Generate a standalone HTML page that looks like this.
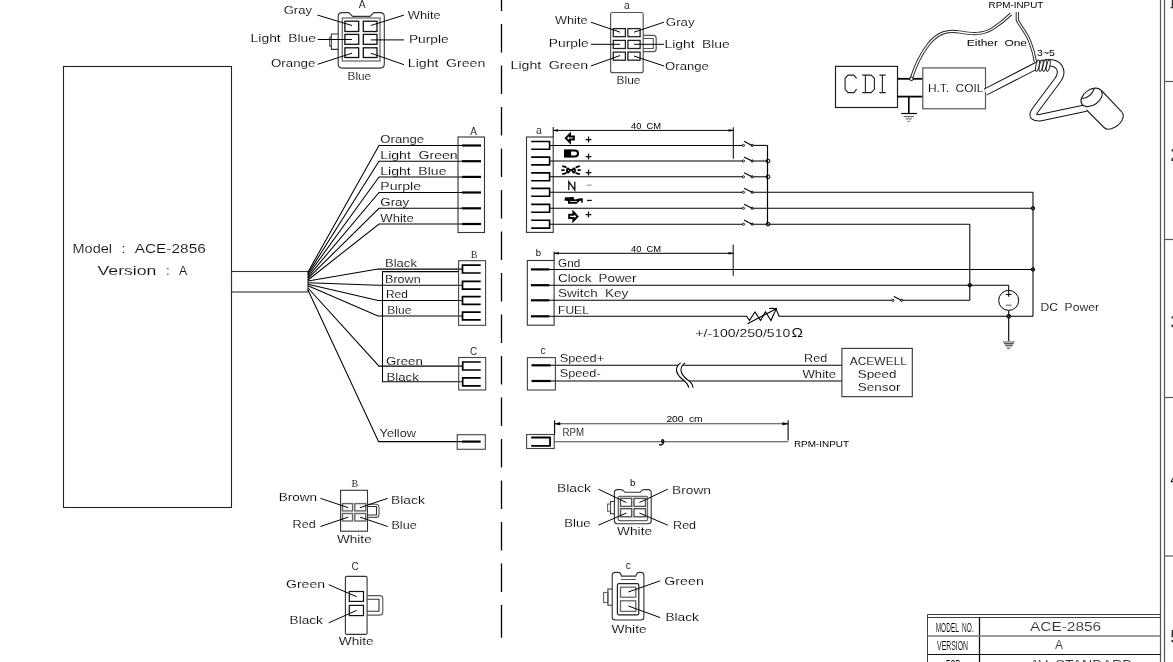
<!DOCTYPE html>
<html><head><meta charset="utf-8"><title>ACE-2856 wiring</title>
<style>
html,body{margin:0;padding:0;background:#fff;width:1173px;height:662px;overflow:hidden;}
svg{display:block;font-family:"Liberation Sans",sans-serif;filter:grayscale(1);}
</style></head>
<body>
<svg width="1173" height="662" viewBox="0 0 1173 662">
<rect x="0" y="0" width="1173" height="662" fill="#fff"/>
<line x1="1160.5" y1="0" x2="1160.5" y2="662" stroke="#555" stroke-width="1.2" />
<line x1="1164.5" y1="0" x2="1164.5" y2="662" stroke="#555" stroke-width="1.2" />
<line x1="1164.5" y1="81.5" x2="1173" y2="81.5" stroke="#555" stroke-width="1.2" />
<line x1="1164.5" y1="239.5" x2="1173" y2="239.5" stroke="#555" stroke-width="1.2" />
<line x1="1164.5" y1="397.5" x2="1173" y2="397.5" stroke="#555" stroke-width="1.2" />
<line x1="1164.5" y1="556" x2="1173" y2="556" stroke="#555" stroke-width="1.2" />
<text x="1170.3" y="161.3" font-size="18" font-family="Liberation Sans" fill="#222" stroke="#fff" stroke-width="0.12" text-anchor="start" >2</text>
<text x="1170.3" y="327.7" font-size="18" font-family="Liberation Sans" fill="#222" stroke="#fff" stroke-width="0.12" text-anchor="start" >3</text>
<text x="1170.3" y="485" font-size="18" font-family="Liberation Sans" fill="#222" stroke="#fff" stroke-width="0.12" text-anchor="start" >4</text>
<text x="1170.3" y="643.2" font-size="18" font-family="Liberation Sans" fill="#222" stroke="#fff" stroke-width="0.12" text-anchor="start" >5</text>
<path d="M1172.4,0 V7.6 M1170.6,7.6 H1173" stroke="#333" stroke-width="1.3" fill="none" />
<line x1="927.5" y1="614.5" x2="1160.5" y2="614.5" stroke="#444" stroke-width="1" />
<line x1="927.5" y1="617.5" x2="1160.5" y2="617.5" stroke="#444" stroke-width="1" />
<line x1="927.5" y1="614.5" x2="927.5" y2="662" stroke="#444" stroke-width="1" />
<line x1="979.5" y1="617.5" x2="979.5" y2="662" stroke="#111" stroke-width="1.3" />
<line x1="927.5" y1="636" x2="1160.5" y2="636" stroke="#777" stroke-width="1.4" />
<line x1="927.5" y1="654.5" x2="1160.5" y2="654.5" stroke="#111" stroke-width="1.2" />
<text x="935.7" y="631.7" font-size="13" font-family="Liberation Sans" fill="#000" stroke="#fff" stroke-width="0.12" text-anchor="start" textLength="38" lengthAdjust="spacingAndGlyphs"  word-spacing="3.38">MODEL NO.</text>
<text x="937.1" y="649.9" font-size="12.8" font-family="Liberation Sans" fill="#000" stroke="#fff" stroke-width="0.12" text-anchor="start" textLength="31" lengthAdjust="spacingAndGlyphs" >VERSION</text>
<text x="946" y="668.5" font-size="12.8" font-family="Liberation Sans" fill="#000" stroke="#fff" stroke-width="0.12" text-anchor="start" textLength="14.5" lengthAdjust="spacingAndGlyphs" >FOR</text>
<text x="1030" y="631.3" font-size="12.8" font-family="Liberation Sans" fill="#333" stroke="#fff" stroke-width="0.12" text-anchor="start" textLength="71.2" lengthAdjust="spacingAndGlyphs" >ACE-2856</text>
<text x="1059.1" y="649.2" font-size="12" font-family="Liberation Sans" fill="#333" stroke="#fff" stroke-width="0.12" text-anchor="middle" >A</text>
<text x="1030" y="668.5" font-size="12.8" font-family="Liberation Sans" fill="#333" stroke="#fff" stroke-width="0.12" text-anchor="start" textLength="102.5" lengthAdjust="spacingAndGlyphs"  word-spacing="3.33">AV STANDARD</text>
<rect x="63.5" y="66.5" width="168.0" height="441.0" rx="0" stroke="#222" stroke-width="1.1" fill="none"/>
<rect x="231.5" y="271.5" width="76.5" height="20.5" rx="0" stroke="#333" stroke-width="1.1" fill="none"/>
<text x="72.6" y="253.3" font-size="13.4" font-family="Liberation Sans" fill="#111" stroke="#fff" stroke-width="0.12" text-anchor="start" textLength="39.3" lengthAdjust="spacingAndGlyphs" >Model</text>
<text x="121.6" y="253.3" font-size="13.4" font-family="Liberation Sans" fill="#111" stroke="#fff" stroke-width="0.12" text-anchor="start" >:</text>
<text x="134.7" y="253.3" font-size="13.4" font-family="Liberation Sans" fill="#111" stroke="#fff" stroke-width="0.12" text-anchor="start" textLength="71.1" lengthAdjust="spacingAndGlyphs" >ACE-2856</text>
<text x="97.6" y="274.5" font-size="13.4" font-family="Liberation Sans" fill="#111" stroke="#fff" stroke-width="0.12" text-anchor="start" textLength="58.8" lengthAdjust="spacingAndGlyphs" >Version</text>
<text x="166.1" y="274.5" font-size="13.4" font-family="Liberation Sans" fill="#111" stroke="#fff" stroke-width="0.12" text-anchor="start" >:</text>
<text x="178.9" y="274.5" font-size="13.4" font-family="Liberation Sans" fill="#111" stroke="#fff" stroke-width="0.12" text-anchor="start" textLength="8.2" lengthAdjust="spacingAndGlyphs" >A</text>
<path d="M308,272 L379,145.5 H462" stroke="#000" stroke-width="1.05" fill="none" />
<text x="380.3" y="143.1" font-size="10.6" font-family="Liberation Sans" fill="#000" stroke="#fff" stroke-width="0.12" text-anchor="start" textLength="43.9" lengthAdjust="spacingAndGlyphs" >Orange</text>
<line x1="462" y1="145.5" x2="481" y2="145.5" stroke="#000" stroke-width="2.2" />
<path d="M308,273.6 L379,161.2 H462" stroke="#000" stroke-width="1.05" fill="none" />
<text x="380.3" y="158.79999999999998" font-size="10.6" font-family="Liberation Sans" fill="#000" stroke="#fff" stroke-width="0.12" text-anchor="start" textLength="77.4" lengthAdjust="spacingAndGlyphs"  word-spacing="2.76">Light Green</text>
<line x1="462" y1="161.2" x2="481" y2="161.2" stroke="#000" stroke-width="2.2" />
<path d="M308,275.2 L379,176.9 H462" stroke="#000" stroke-width="1.05" fill="none" />
<text x="380.3" y="174.5" font-size="10.6" font-family="Liberation Sans" fill="#000" stroke="#fff" stroke-width="0.12" text-anchor="start" textLength="66.2" lengthAdjust="spacingAndGlyphs"  word-spacing="2.76">Light Blue</text>
<line x1="462" y1="176.9" x2="481" y2="176.9" stroke="#000" stroke-width="2.2" />
<path d="M308,276.8 L379,192.5 H462" stroke="#000" stroke-width="1.05" fill="none" />
<text x="380.3" y="190.1" font-size="10.6" font-family="Liberation Sans" fill="#000" stroke="#fff" stroke-width="0.12" text-anchor="start" textLength="40.8" lengthAdjust="spacingAndGlyphs" >Purple</text>
<line x1="462" y1="192.5" x2="481" y2="192.5" stroke="#000" stroke-width="2.2" />
<path d="M308,278.4 L379,208.3 H462" stroke="#000" stroke-width="1.05" fill="none" />
<text x="380.3" y="205.9" font-size="10.6" font-family="Liberation Sans" fill="#000" stroke="#fff" stroke-width="0.12" text-anchor="start" textLength="28.9" lengthAdjust="spacingAndGlyphs" >Gray</text>
<line x1="462" y1="208.3" x2="481" y2="208.3" stroke="#000" stroke-width="2.2" />
<path d="M308,280 L379,224 H462" stroke="#000" stroke-width="1.05" fill="none" />
<text x="380.3" y="221.6" font-size="10.6" font-family="Liberation Sans" fill="#000" stroke="#fff" stroke-width="0.12" text-anchor="start" textLength="33.5" lengthAdjust="spacingAndGlyphs" >White</text>
<line x1="462" y1="224" x2="481" y2="224" stroke="#000" stroke-width="2.2" />
<rect x="458" y="137" width="26.5" height="95.5" rx="0" stroke="#333" stroke-width="1.1" fill="none"/>
<text x="473.5" y="135" font-size="10" font-family="Liberation Sans" fill="#000" stroke="#fff" stroke-width="0.12" text-anchor="middle" >A</text>
<path d="M308,281 L378,269.1 H462.5" stroke="#000" stroke-width="1.05" fill="none" />
<text x="385" y="267.0" font-size="10.6" font-family="Liberation Sans" fill="#000" stroke="#fff" stroke-width="0.12" text-anchor="start" textLength="31.9" lengthAdjust="spacingAndGlyphs" >Black</text>
<path d="M480.7,265.20000000000005 H462.5 V273.0 H480.7" stroke="#000" stroke-width="1.7" fill="none" />
<path d="M308,282.8 L378,285.2 H462.5" stroke="#000" stroke-width="1.05" fill="none" />
<text x="385" y="283.09999999999997" font-size="10.6" font-family="Liberation Sans" fill="#000" stroke="#fff" stroke-width="0.12" text-anchor="start" textLength="35.7" lengthAdjust="spacingAndGlyphs" >Brown</text>
<path d="M480.7,281.3 H462.5 V289.09999999999997 H480.7" stroke="#000" stroke-width="1.7" fill="none" />
<path d="M308,284.3 L378,300.5 H462.5" stroke="#000" stroke-width="1.05" fill="none" />
<text x="386" y="298.4" font-size="10.6" font-family="Liberation Sans" fill="#000" stroke="#fff" stroke-width="0.12" text-anchor="start" textLength="21.9" lengthAdjust="spacingAndGlyphs" >Red</text>
<path d="M480.7,296.6 H462.5 V304.4 H480.7" stroke="#000" stroke-width="1.7" fill="none" />
<path d="M308,285.7 L378,316 H462.5" stroke="#000" stroke-width="1.05" fill="none" />
<text x="387.3" y="313.9" font-size="10.6" font-family="Liberation Sans" fill="#000" stroke="#fff" stroke-width="0.12" text-anchor="start" textLength="24.1" lengthAdjust="spacingAndGlyphs" >Blue</text>
<path d="M480.7,312.1 H462.5 V319.9 H480.7" stroke="#000" stroke-width="1.7" fill="none" />
<rect x="458.6" y="260.7" width="27.0" height="64.6" rx="0" stroke="#444" stroke-width="1.1" fill="none"/>
<text x="474" y="257.5" font-size="10" font-family="Liberation Serif" fill="#000" stroke="#fff" stroke-width="0.12" text-anchor="middle" >B</text>
<path d="M458.6,271.6 H382.5 V381.7 H462.7" stroke="#000" stroke-width="1.05" fill="none" />
<path d="M308,288 L379,366.1 H462.7" stroke="#000" stroke-width="1.05" fill="none" />
<text x="385.9" y="365" font-size="10.6" font-family="Liberation Sans" fill="#000" stroke="#fff" stroke-width="0.12" text-anchor="start" textLength="36.9" lengthAdjust="spacingAndGlyphs" >Green</text>
<text x="386.4" y="380.5" font-size="10.6" font-family="Liberation Sans" fill="#000" stroke="#fff" stroke-width="0.12" text-anchor="start" textLength="32.5" lengthAdjust="spacingAndGlyphs" >Black</text>
<path d="M480.7,362 H462.7 V370 H480.7" stroke="#000" stroke-width="1.7" fill="none" />
<path d="M480.7,377.8 H462.7 V385.8 H480.7" stroke="#000" stroke-width="1.7" fill="none" />
<rect x="458.7" y="357.5" width="27.0" height="32.5" rx="0" stroke="#444" stroke-width="1.1" fill="none"/>
<text x="473.5" y="354.5" font-size="10" font-family="Liberation Sans" fill="#000" stroke="#fff" stroke-width="0.12" text-anchor="middle" >C</text>
<path d="M308,290 L378.6,441.6 H462" stroke="#000" stroke-width="1.05" fill="none" />
<text x="379.6" y="437" font-size="10.6" font-family="Liberation Sans" fill="#000" stroke="#fff" stroke-width="0.12" text-anchor="start" textLength="36.3" lengthAdjust="spacingAndGlyphs" >Yellow</text>
<rect x="457.2" y="434.7" width="28.1" height="14.6" rx="0" stroke="#444" stroke-width="1.1" fill="none"/>
<line x1="462" y1="441.6" x2="480.7" y2="441.6" stroke="#000" stroke-width="2.2" />
<line x1="501.5" y1="0" x2="501.5" y2="606" stroke="#000" stroke-width="1.3" stroke-dasharray="28.4 13.1" stroke-dashoffset="17.4"/>
<line x1="501.5" y1="605.4" x2="501.5" y2="637.7" stroke="#000" stroke-width="1.3" />
<path d="M342.2,12.6 H348.8 L352.6,16.4 H370 L373.8,12.6 H380.3 Q384.3,12.6 384.3,16.6 V64.1 Q384.3,68.1 380.3,68.1 H342.2 Q338.2,68.1 338.2,64.1 V16.6 Q338.2,12.6 342.2,12.6 Z" stroke="#333" stroke-width="1.1" fill="none" />
<rect x="342.3" y="18" width="37.7" height="43" rx="0" stroke="#777" stroke-width="1.4" fill="none"/>
<rect x="344.9" y="21.2" width="13.8" height="10.3" rx="0" stroke="#111" stroke-width="1.3" fill="none"/>
<rect x="344.9" y="34.4" width="13.8" height="9.9" rx="0" stroke="#111" stroke-width="1.3" fill="none"/>
<rect x="344.9" y="47.8" width="13.8" height="9.7" rx="0" stroke="#111" stroke-width="1.3" fill="none"/>
<rect x="363.3" y="21.2" width="13.7" height="10.3" rx="0" stroke="#111" stroke-width="1.3" fill="none"/>
<rect x="363.3" y="34.4" width="13.7" height="9.9" rx="0" stroke="#111" stroke-width="1.3" fill="none"/>
<rect x="363.3" y="47.8" width="13.7" height="9.7" rx="0" stroke="#111" stroke-width="1.3" fill="none"/>
<path d="M338.2,34 H331.4 V49.4 H338.2" stroke="#333" stroke-width="1.1" fill="none" />
<rect x="329.6" y="37.2" width="1.8" height="9.0" rx="0" stroke="#555" stroke-width="1" fill="none"/>
<text x="362.2" y="7.9" font-size="10.2" font-family="Liberation Sans" fill="#000" stroke="#fff" stroke-width="0.12" text-anchor="middle" >A</text>
<text x="347.5" y="79.6" font-size="10.3" font-family="Liberation Sans" fill="#000" stroke="#fff" stroke-width="0.12" text-anchor="start" textLength="23.7" lengthAdjust="spacingAndGlyphs" >Blue</text>
<text x="283.7" y="14.4" font-size="10.3" font-family="Liberation Sans" fill="#000" stroke="#fff" stroke-width="0.12" text-anchor="start" textLength="28.3" lengthAdjust="spacingAndGlyphs" >Gray</text>
<text x="250.6" y="42.1" font-size="10.3" font-family="Liberation Sans" fill="#000" stroke="#fff" stroke-width="0.12" text-anchor="start" textLength="65.4" lengthAdjust="spacingAndGlyphs"  word-spacing="2.68">Light Blue</text>
<text x="271" y="66.5" font-size="10.3" font-family="Liberation Sans" fill="#000" stroke="#fff" stroke-width="0.12" text-anchor="start" textLength="44.4" lengthAdjust="spacingAndGlyphs" >Orange</text>
<text x="407.8" y="18.8" font-size="10.3" font-family="Liberation Sans" fill="#000" stroke="#fff" stroke-width="0.12" text-anchor="start" textLength="32.8" lengthAdjust="spacingAndGlyphs" >White</text>
<text x="408.9" y="43.2" font-size="10.3" font-family="Liberation Sans" fill="#000" stroke="#fff" stroke-width="0.12" text-anchor="start" textLength="39.9" lengthAdjust="spacingAndGlyphs" >Purple</text>
<text x="407.8" y="66.9" font-size="10.3" font-family="Liberation Sans" fill="#000" stroke="#fff" stroke-width="0.12" text-anchor="start" textLength="77.5" lengthAdjust="spacingAndGlyphs"  word-spacing="2.68">Light Green</text>
<line x1="317.6" y1="15.1" x2="352" y2="25.5" stroke="#000" stroke-width="1" />
<line x1="317.6" y1="39.5" x2="352" y2="39.5" stroke="#000" stroke-width="1" />
<line x1="317.6" y1="64.3" x2="352" y2="53.2" stroke="#000" stroke-width="1" />
<line x1="404" y1="15.1" x2="370.8" y2="25.5" stroke="#000" stroke-width="1" />
<line x1="404" y1="39.9" x2="370.8" y2="39.9" stroke="#000" stroke-width="1" />
<line x1="404" y1="64.7" x2="370.8" y2="53.2" stroke="#000" stroke-width="1" />
<rect x="610.6" y="12.5" width="32.6" height="60.2" rx="2" stroke="#555" stroke-width="1.2" fill="none"/>
<rect x="613.3" y="28.6" width="12.1" height="8.1" rx="0" stroke="#222" stroke-width="1.3" fill="none"/>
<rect x="613.3" y="40.4" width="12.1" height="8.1" rx="0" stroke="#222" stroke-width="1.3" fill="none"/>
<rect x="613.3" y="52.1" width="12.1" height="8.1" rx="0" stroke="#222" stroke-width="1.3" fill="none"/>
<rect x="627.9" y="28.6" width="12.2" height="8.1" rx="0" stroke="#222" stroke-width="1.3" fill="none"/>
<rect x="627.9" y="40.4" width="12.2" height="8.1" rx="0" stroke="#222" stroke-width="1.3" fill="none"/>
<rect x="627.9" y="52.1" width="12.2" height="8.1" rx="0" stroke="#222" stroke-width="1.3" fill="none"/>
<path d="M643.2,35.4 H653.2 Q656.2,35.4 656.2,38.4 V48.7 Q656.2,51.7 653.2,51.7 H643.2" stroke="#555" stroke-width="1.2" fill="none" />
<path d="M643.2,38.5 H653.3 V48.5 H643.2" stroke="#555" stroke-width="1.1" fill="none" />
<text x="626.9" y="8.9" font-size="10.4" font-family="Liberation Sans" fill="#000" stroke="#fff" stroke-width="0.12" text-anchor="middle" >a</text>
<text x="616.6" y="83.6" font-size="10.3" font-family="Liberation Sans" fill="#000" stroke="#fff" stroke-width="0.12" text-anchor="start" textLength="23.9" lengthAdjust="spacingAndGlyphs" >Blue</text>
<text x="555" y="24.4" font-size="10.3" font-family="Liberation Sans" fill="#000" stroke="#fff" stroke-width="0.12" text-anchor="start" textLength="32.5" lengthAdjust="spacingAndGlyphs" >White</text>
<text x="548.8" y="47" font-size="10.3" font-family="Liberation Sans" fill="#000" stroke="#fff" stroke-width="0.12" text-anchor="start" textLength="39.9" lengthAdjust="spacingAndGlyphs" >Purple</text>
<text x="510.6" y="68.7" font-size="10.3" font-family="Liberation Sans" fill="#000" stroke="#fff" stroke-width="0.12" text-anchor="start" textLength="77.6" lengthAdjust="spacingAndGlyphs"  word-spacing="2.68">Light Green</text>
<text x="665.8" y="26.2" font-size="10.3" font-family="Liberation Sans" fill="#000" stroke="#fff" stroke-width="0.12" text-anchor="start" textLength="28.8" lengthAdjust="spacingAndGlyphs" >Gray</text>
<text x="664.5" y="47.7" font-size="10.3" font-family="Liberation Sans" fill="#000" stroke="#fff" stroke-width="0.12" text-anchor="start" textLength="65.3" lengthAdjust="spacingAndGlyphs"  word-spacing="2.68">Light Blue</text>
<text x="665.1" y="69.8" font-size="10.3" font-family="Liberation Sans" fill="#000" stroke="#fff" stroke-width="0.12" text-anchor="start" textLength="43.7" lengthAdjust="spacingAndGlyphs" >Orange</text>
<line x1="590.9" y1="22.2" x2="620.1" y2="32.2" stroke="#000" stroke-width="1" />
<line x1="590.9" y1="44.3" x2="620.1" y2="44.3" stroke="#000" stroke-width="1" />
<line x1="590.9" y1="66" x2="620.1" y2="55.5" stroke="#000" stroke-width="1" />
<line x1="664" y1="22.2" x2="634" y2="32.2" stroke="#000" stroke-width="1" />
<line x1="664" y1="44.3" x2="634" y2="44.3" stroke="#000" stroke-width="1" />
<line x1="664" y1="66" x2="634" y2="56" stroke="#000" stroke-width="1" />
<rect x="526.5" y="137" width="26.7" height="95.4" rx="0" stroke="#333" stroke-width="1.1" fill="none"/>
<text x="538.8" y="133.7" font-size="10.4" font-family="Liberation Sans" fill="#000" stroke="#fff" stroke-width="0.12" text-anchor="middle" >a</text>
<path d="M531.2,141.5 H549.6 V149.3 H531.2" stroke="#000" stroke-width="1.6" fill="none" />
<path d="M531.2,157.1 H549.6 V164.9 H531.2" stroke="#000" stroke-width="1.6" fill="none" />
<path d="M531.2,172.9 H549.6 V180.70000000000002 H531.2" stroke="#000" stroke-width="1.6" fill="none" />
<path d="M531.2,188.4 H549.6 V196.20000000000002 H531.2" stroke="#000" stroke-width="1.6" fill="none" />
<path d="M531.2,204.4 H549.6 V212.20000000000002 H531.2" stroke="#000" stroke-width="1.6" fill="none" />
<path d="M531.2,220.29999999999998 H549.6 V228.1 H531.2" stroke="#000" stroke-width="1.6" fill="none" />
<line x1="553.2" y1="130.4" x2="733.3" y2="130.4" stroke="#000" stroke-width="1" />
<path d="M553.2,130.4 l4.5,-1 v2 z" stroke="#000" stroke-width="0.4" fill="#000" />
<path d="M733.3,130.4 l-4.5,-1 v2 z" stroke="#000" stroke-width="0.4" fill="#000" />
<line x1="553.2" y1="127" x2="553.2" y2="137" stroke="#000" stroke-width="1" />
<line x1="733.3" y1="127.3" x2="733.3" y2="158.7" stroke="#000" stroke-width="1" />
<text x="631.1" y="128.6" font-size="9.2" font-family="Liberation Sans" fill="#000" stroke="#fff" stroke-width="0" text-anchor="start" textLength="30.1" lengthAdjust="spacingAndGlyphs"  word-spacing="2.39">40 CM</text>
<path d="M565.8,138.1 L569.9,133.9 V136.4 H573.8 V139.6 H569.9 V142.3 Z" stroke="#000" stroke-width="2.0" fill="none" />
<path d="M585.6,139.5 H591.4 M588.5,136.6 V142.4" stroke="#111" stroke-width="1.25" fill="none" />
<rect x="564" y="149.4" width="7.1" height="8.2" rx="0" stroke="#000" stroke-width="0" fill="#000"/>
<path d="M570.5,150.4 H574.9 A3.1,3.1 0 0 1 574.9,156.6 H570.5" stroke="#000" stroke-width="2.0" fill="none" />
<path d="M585.6,156.5 H591.4 M588.5,153.6 V159.4" stroke="#111" stroke-width="1.25" fill="none" />
<ellipse cx="568" cy="170.4" rx="1.95" ry="3.0" fill="#000"/>
<ellipse cx="573.9" cy="170.4" rx="1.95" ry="3.0" fill="#000"/>
<line x1="568" y1="170.2" x2="573.9" y2="170.2" stroke="#000" stroke-width="2.2" />
<circle cx="568.4" cy="170.5" r="0.55" stroke="#000" stroke-width="0" fill="#fff"/>
<circle cx="573.5" cy="170.5" r="0.55" stroke="#000" stroke-width="0" fill="#fff"/>
<path d="M562.2,166.2 Q564.5,166.4 566.5,167.6 M561.4,170.2 H564.6 M562.2,174.2 Q564.5,174 566.5,172.8" stroke="#000" stroke-width="1.8" fill="none" />
<path d="M579.9,166.2 Q577.6,166.4 575.6,167.6 M580.7,170.2 H577.5 M579.9,174.2 Q577.6,174 575.6,172.8" stroke="#000" stroke-width="1.8" fill="none" />
<path d="M585.6,172.5 H591.4 M588.5,169.6 V175.4" stroke="#111" stroke-width="1.25" fill="none" />
<path d="M568.8,190 V181.8 L574.8,190 V181.8" stroke="#111" stroke-width="1.3" fill="none" />
<line x1="586.7" y1="185.2" x2="591.6" y2="185.2" stroke="#888" stroke-width="1" />
<path d="M564.2,200.5 L565.2,197.3 L570.2,197.3 L570.3,196.9 L573.8,196.9 L573.8,198.9 L575.5,199.6 L578.7,198.4 L582.8,198.2 L582.8,202.8 L581.3,202.8 L581.3,200.6 L579.5,201 L576.7,203.8 L568,203.8 L568,201.1 Z" stroke="#000" stroke-width="0" fill="#000" />
<rect x="570" y="201.1" width="7" height="0.8" rx="0" stroke="#000" stroke-width="0" fill="#fff"/>
<line x1="587" y1="200.4" x2="591.8" y2="200.4" stroke="#111" stroke-width="1.2" />
<path d="M577.5,216.4 L573.4,212.1 V214.8 H569.2 V218 H573.4 V220.7 Z" stroke="#000" stroke-width="2.0" fill="none" />
<path d="M585.6,214.5 H591.4 M588.5,211.6 V217.4" stroke="#111" stroke-width="1.25" fill="none" />
<line x1="549.6" y1="145.4" x2="743.2" y2="145.4" stroke="#000" stroke-width="1.05" />
<circle cx="743.4" cy="145.4" r="1.1" stroke="#000" stroke-width="0.9" fill="#fff"/>
<line x1="744.1" y1="141.3" x2="752" y2="145.4" stroke="#000" stroke-width="1.1" />
<circle cx="752.2" cy="145.4" r="1.1" stroke="#000" stroke-width="0.9" fill="#888"/>
<line x1="549.6" y1="161" x2="743.2" y2="161" stroke="#000" stroke-width="1.05" />
<circle cx="743.4" cy="161" r="1.1" stroke="#000" stroke-width="0.9" fill="#fff"/>
<line x1="744.1" y1="156.9" x2="752" y2="161" stroke="#000" stroke-width="1.1" />
<circle cx="752.2" cy="161" r="1.1" stroke="#000" stroke-width="0.9" fill="#888"/>
<line x1="549.6" y1="176.8" x2="743.2" y2="176.8" stroke="#000" stroke-width="1.05" />
<circle cx="743.4" cy="176.8" r="1.1" stroke="#000" stroke-width="0.9" fill="#fff"/>
<line x1="744.1" y1="172.70000000000002" x2="752" y2="176.8" stroke="#000" stroke-width="1.1" />
<circle cx="752.2" cy="176.8" r="1.1" stroke="#000" stroke-width="0.9" fill="#888"/>
<line x1="549.6" y1="192.3" x2="743.2" y2="192.3" stroke="#000" stroke-width="1.05" />
<circle cx="743.4" cy="192.3" r="1.1" stroke="#000" stroke-width="0.9" fill="#fff"/>
<line x1="744.1" y1="188.20000000000002" x2="752" y2="192.3" stroke="#000" stroke-width="1.1" />
<circle cx="752.2" cy="192.3" r="1.1" stroke="#000" stroke-width="0.9" fill="#888"/>
<line x1="549.6" y1="208.3" x2="743.2" y2="208.3" stroke="#000" stroke-width="1.05" />
<circle cx="743.4" cy="208.3" r="1.1" stroke="#000" stroke-width="0.9" fill="#fff"/>
<line x1="744.1" y1="204.20000000000002" x2="752" y2="208.3" stroke="#000" stroke-width="1.1" />
<circle cx="752.2" cy="208.3" r="1.1" stroke="#000" stroke-width="0.9" fill="#888"/>
<line x1="549.6" y1="224.2" x2="743.2" y2="224.2" stroke="#000" stroke-width="1.05" />
<circle cx="743.4" cy="224.2" r="1.1" stroke="#000" stroke-width="0.9" fill="#fff"/>
<line x1="744.1" y1="220.1" x2="752" y2="224.2" stroke="#000" stroke-width="1.1" />
<circle cx="752.2" cy="224.2" r="1.1" stroke="#000" stroke-width="0.9" fill="#888"/>
<line x1="767.5" y1="145.4" x2="767.5" y2="224.2" stroke="#000" stroke-width="1.2" />
<line x1="753.3" y1="145.4" x2="767.5" y2="145.4" stroke="#000" stroke-width="1.05" />
<line x1="753.3" y1="161" x2="767.5" y2="161" stroke="#000" stroke-width="1.05" />
<line x1="753.3" y1="176.8" x2="767.5" y2="176.8" stroke="#000" stroke-width="1.05" />
<circle cx="768" cy="161" r="1.9" stroke="#000" stroke-width="1" fill="none"/>
<circle cx="768" cy="176.8" r="1.9" stroke="#000" stroke-width="1" fill="none"/>
<circle cx="768" cy="224.2" r="1.9" stroke="#000" stroke-width="1" fill="none"/>
<line x1="753.3" y1="192.3" x2="1033" y2="192.3" stroke="#000" stroke-width="1.05" />
<line x1="753.3" y1="208.3" x2="1033" y2="208.3" stroke="#000" stroke-width="1.05" />
<line x1="753.3" y1="224.2" x2="969.8" y2="224.2" stroke="#000" stroke-width="1.05" />
<line x1="1033" y1="192.3" x2="1033" y2="316.3" stroke="#000" stroke-width="1.05" />
<line x1="969.8" y1="224.2" x2="969.8" y2="300.3" stroke="#000" stroke-width="1.05" />
<circle cx="1033" cy="208.3" r="1.7" stroke="#000" stroke-width="1" fill="#444"/>
<circle cx="1033" cy="269.4" r="1.7" stroke="#000" stroke-width="1" fill="#444"/>
<circle cx="969.8" cy="285.2" r="1.7" stroke="#000" stroke-width="1" fill="#444"/>
<rect x="527.3" y="260.5" width="26.8" height="64.7" rx="0" stroke="#333" stroke-width="1.1" fill="none"/>
<text x="538.5" y="255.9" font-size="9.6" font-family="Liberation Sans" fill="#000" stroke="#fff" stroke-width="0" text-anchor="middle" >b</text>
<line x1="530.9" y1="269.4" x2="549.5" y2="269.4" stroke="#000" stroke-width="2.2" />
<line x1="530.9" y1="285.2" x2="549.5" y2="285.2" stroke="#000" stroke-width="2.2" />
<line x1="530.9" y1="300.3" x2="549.5" y2="300.3" stroke="#000" stroke-width="2.2" />
<line x1="530.9" y1="316.3" x2="549.5" y2="316.3" stroke="#000" stroke-width="2.2" />
<line x1="554.1" y1="253.3" x2="733.2" y2="253.3" stroke="#000" stroke-width="1" />
<path d="M554.1,253.3 l4.5,-1 v2 z" stroke="#000" stroke-width="0.4" fill="#000" />
<path d="M733.2,253.3 l-4.5,-1 v2 z" stroke="#000" stroke-width="0.4" fill="#000" />
<line x1="554.1" y1="251.5" x2="554.1" y2="260.5" stroke="#000" stroke-width="1" />
<line x1="733.2" y1="244.6" x2="733.2" y2="275.8" stroke="#000" stroke-width="1" />
<text x="631.1" y="251.6" font-size="9.2" font-family="Liberation Sans" fill="#000" stroke="#fff" stroke-width="0" text-anchor="start" textLength="30.1" lengthAdjust="spacingAndGlyphs"  word-spacing="2.39">40 CM</text>
<text x="558" y="266.9" font-size="10.6" font-family="Liberation Sans" fill="#000" stroke="#fff" stroke-width="0.12" text-anchor="start" textLength="22.2" lengthAdjust="spacingAndGlyphs" >Gnd</text>
<text x="558" y="281.7" font-size="10.6" font-family="Liberation Sans" fill="#000" stroke="#fff" stroke-width="0.12" text-anchor="start" textLength="78.5" lengthAdjust="spacingAndGlyphs"  word-spacing="2.76">Clock Power</text>
<text x="558" y="296.8" font-size="10.6" font-family="Liberation Sans" fill="#000" stroke="#fff" stroke-width="0.12" text-anchor="start" textLength="70.3" lengthAdjust="spacingAndGlyphs"  word-spacing="2.76">Switch Key</text>
<text x="558" y="314.2" font-size="10.6" font-family="Liberation Sans" fill="#000" stroke="#fff" stroke-width="0.12" text-anchor="start" textLength="30.9" lengthAdjust="spacingAndGlyphs" >FUEL</text>
<line x1="549.5" y1="269.4" x2="1033" y2="269.4" stroke="#000" stroke-width="1.05" />
<line x1="549.5" y1="285.2" x2="1008.7" y2="285.2" stroke="#000" stroke-width="1.05" />
<line x1="1008.7" y1="285.2" x2="1008.7" y2="290.4" stroke="#000" stroke-width="1.05" />
<line x1="549.5" y1="300.3" x2="892.7" y2="300.3" stroke="#000" stroke-width="1.05" />
<circle cx="892.9" cy="300.3" r="1.1" stroke="#000" stroke-width="0.9" fill="#fff"/>
<line x1="893.9" y1="296.4" x2="901.3" y2="300.3" stroke="#000" stroke-width="1.1" />
<circle cx="901.5" cy="300.3" r="1.1" stroke="#000" stroke-width="0.9" fill="#888"/>
<line x1="902.6" y1="300.3" x2="969.8" y2="300.3" stroke="#000" stroke-width="1.05" />
<path d="M549.5,316.3 H746.7 L749.4,320.5 L755,312 L760.5,320.5 L765.5,311.8 L770.9,320.5 L776.1,309.1 L779.1,316.2 H1033" stroke="#000" stroke-width="1.1" fill="none" />
<line x1="747.5" y1="323.7" x2="776.4" y2="308.8" stroke="#000" stroke-width="1.1" />
<line x1="769.3" y1="308.4" x2="777" y2="308.6" stroke="#000" stroke-width="1.1" />
<text x="695.3" y="336.7" font-size="11" font-family="Liberation Sans" fill="#000" stroke="#fff" stroke-width="0.12" text-anchor="start" textLength="95" lengthAdjust="spacingAndGlyphs" >+/-100/250/510</text>
<text x="791.5" y="336.7" font-size="12" font-family="Liberation Sans" fill="#000" stroke="#fff" stroke-width="0.12" text-anchor="start" textLength="11.5" lengthAdjust="spacingAndGlyphs" >Ω</text>
<circle cx="1008.7" cy="300.4" r="10" stroke="#000" stroke-width="1" fill="none"/>
<line x1="1008.7" y1="290.4" x2="1008.7" y2="296.8" stroke="#000" stroke-width="1" />
<line x1="1005.8" y1="294.4" x2="1011.6" y2="294.4" stroke="#000" stroke-width="1" />
<line x1="1005.8" y1="305.2" x2="1011.6" y2="305.2" stroke="#555" stroke-width="1" />
<line x1="1008.7" y1="310.4" x2="1008.7" y2="341.3" stroke="#000" stroke-width="1.1" />
<circle cx="1008.7" cy="316.3" r="1.9" stroke="#000" stroke-width="1" fill="#333"/>
<line x1="1002.8" y1="341.9" x2="1014.8" y2="341.9" stroke="#999" stroke-width="1.6" />
<line x1="1004" y1="343.6" x2="1013.7" y2="343.6" stroke="#555" stroke-width="1.4" />
<line x1="1005.1" y1="345.4" x2="1012.8" y2="345.4" stroke="#666" stroke-width="1.4" />
<line x1="1006.2" y1="347.1" x2="1011.6" y2="347.1" stroke="#aaa" stroke-width="1.4" />
<line x1="1007.2" y1="348.6" x2="1009.8" y2="348.6" stroke="#888" stroke-width="1.4" />
<text x="1040.5" y="311.4" font-size="10.8" font-family="Liberation Sans" fill="#000" stroke="#fff" stroke-width="0.12" text-anchor="start" textLength="58.5" lengthAdjust="spacingAndGlyphs"  word-spacing="2.81">DC Power</text>
<rect x="527.4" y="357.6" width="28.0" height="32.4" rx="0" stroke="#444" stroke-width="1.1" fill="none"/>
<text x="543.1" y="353.5" font-size="10.2" font-family="Liberation Sans" fill="#000" stroke="#fff" stroke-width="0.12" text-anchor="middle" >c</text>
<line x1="531.5" y1="365.3" x2="550.8" y2="365.3" stroke="#000" stroke-width="2.2" />
<line x1="531.5" y1="381" x2="550.8" y2="381" stroke="#000" stroke-width="2.2" />
<text x="559.7" y="361.8" font-size="10.6" font-family="Liberation Sans" fill="#000" stroke="#fff" stroke-width="0.12" text-anchor="start" textLength="44.5" lengthAdjust="spacingAndGlyphs" >Speed+</text>
<text x="559.7" y="376.7" font-size="10.6" font-family="Liberation Sans" fill="#000" stroke="#fff" stroke-width="0.12" text-anchor="start" textLength="41" lengthAdjust="spacingAndGlyphs" >Speed-</text>
<line x1="550.8" y1="365.3" x2="841.9" y2="365.3" stroke="#000" stroke-width="1.05" />
<line x1="550.8" y1="381" x2="841.9" y2="381" stroke="#000" stroke-width="1.05" />
<path d="M680.6,362.9 C675,367 674.5,373 683,379.8 C687,383 688.5,385 688.5,387.7 L693,387.7 C693,385 691.5,382.5 687.5,379.8 C679,373 679.5,367 685.1,362.9 Z" stroke="#000" stroke-width="0" fill="#fff" />
<path d="M680.6,362.9 C675,367 674.5,373 683,379.8 C687,383 688.5,385 688.5,387.7" stroke="#000" stroke-width="1.1" fill="none" />
<path d="M685.1,362.9 C679.5,367 679,373 687.5,379.8 C691.5,382.5 693,385 693,387.7" stroke="#000" stroke-width="1.1" fill="none" />
<rect x="841.9" y="348.4" width="70.4" height="48.3" rx="0" stroke="#333" stroke-width="1.1" fill="none"/>
<text x="804.1" y="362.4" font-size="10.6" font-family="Liberation Sans" fill="#000" stroke="#fff" stroke-width="0.12" text-anchor="start" textLength="23.1" lengthAdjust="spacingAndGlyphs" >Red</text>
<text x="802.5" y="378" font-size="10.6" font-family="Liberation Sans" fill="#000" stroke="#fff" stroke-width="0.12" text-anchor="start" textLength="33.5" lengthAdjust="spacingAndGlyphs" >White</text>
<text x="849.7" y="364.7" font-size="11" font-family="Liberation Sans" fill="#000" stroke="#fff" stroke-width="0.12" text-anchor="start" textLength="57.3" lengthAdjust="spacingAndGlyphs" >ACEWELL</text>
<text x="857.7" y="378" font-size="11" font-family="Liberation Sans" fill="#000" stroke="#fff" stroke-width="0.12" text-anchor="start" textLength="38.8" lengthAdjust="spacingAndGlyphs" >Speed</text>
<text x="857.7" y="391" font-size="11" font-family="Liberation Sans" fill="#000" stroke="#fff" stroke-width="0.12" text-anchor="start" textLength="42.7" lengthAdjust="spacingAndGlyphs" >Sensor</text>
<rect x="526.6" y="434.5" width="27.6" height="14.0" rx="0" stroke="#444" stroke-width="1.1" fill="none"/>
<path d="M531.2,437.5 H550 V445.9 H531.2" stroke="#000" stroke-width="1.8" fill="none" />
<line x1="554.6" y1="420.3" x2="554.6" y2="434.5" stroke="#000" stroke-width="1.1" />
<line x1="788.1" y1="420.2" x2="788.1" y2="440.5" stroke="#000" stroke-width="1.1" />
<line x1="554.6" y1="423.8" x2="788.1" y2="423.8" stroke="#444" stroke-width="1.05" />
<path d="M555,423.8 l5,-1.2 v2.4 z" stroke="#000" stroke-width="0.6" fill="#000" />
<path d="M787.7,423.8 l-5,-1.2 v2.4 z" stroke="#000" stroke-width="0.6" fill="#000" />
<text x="666.4" y="421.5" font-size="9.5" font-family="Liberation Sans" fill="#000" stroke="#fff" stroke-width="0" text-anchor="start" textLength="36.2" lengthAdjust="spacingAndGlyphs"  word-spacing="2.47">200 cm</text>
<text x="562.4" y="435.7" font-size="10.6" font-family="Liberation Sans" fill="#000" stroke="#fff" stroke-width="0.12" text-anchor="start" textLength="21.6" lengthAdjust="spacingAndGlyphs" >RPM</text>
<line x1="554.2" y1="441.8" x2="788.1" y2="441.8" stroke="#444" stroke-width="1.05" />
<path d="M659.3,444.4 C660.3,445.8 663.3,444.6 663.7,442 C664,440 662.6,438.9 661.9,440.3 C661.4,441.5 662.2,442.6 663.2,442.8" stroke="#000" stroke-width="1.3" fill="none" />
<text x="793.9" y="446.6" font-size="9.3" font-family="Liberation Sans" fill="#000" stroke="#fff" stroke-width="0" text-anchor="start" textLength="55.1" lengthAdjust="spacingAndGlyphs" >RPM-INPUT</text>
<rect x="340.6" y="490.3" width="26.9" height="40.9" rx="0" stroke="#333" stroke-width="1.1" fill="none"/>
<rect x="342.5" y="503.6" width="10.1" height="7.3" rx="0" stroke="#666" stroke-width="1.4" fill="none"/>
<rect x="342.5" y="513.5" width="10.1" height="7.5" rx="0" stroke="#666" stroke-width="1.4" fill="none"/>
<rect x="354.8" y="503.6" width="10.9" height="7.3" rx="0" stroke="#666" stroke-width="1.4" fill="none"/>
<rect x="354.8" y="513.5" width="10.9" height="7.5" rx="0" stroke="#666" stroke-width="1.4" fill="none"/>
<path d="M367.5,504.3 H376 Q379,504.3 379,507.3 V514.4 Q379,517.4 376,517.4 H367.5" stroke="#555" stroke-width="1.1" fill="none" />
<path d="M367.5,506.5 H376.5 V515 H367.5" stroke="#333" stroke-width="1.1" fill="none" />
<text x="354.8" y="486.7" font-size="10" font-family="Liberation Serif" fill="#000" stroke="#fff" stroke-width="0.12" text-anchor="middle" >B</text>
<text x="278.7" y="501.2" font-size="10.6" font-family="Liberation Sans" fill="#000" stroke="#fff" stroke-width="0.12" text-anchor="start" textLength="38.4" lengthAdjust="spacingAndGlyphs" >Brown</text>
<text x="292.5" y="528" font-size="10.6" font-family="Liberation Sans" fill="#000" stroke="#fff" stroke-width="0.12" text-anchor="start" textLength="23.2" lengthAdjust="spacingAndGlyphs" >Red</text>
<text x="391" y="503.6" font-size="10.6" font-family="Liberation Sans" fill="#000" stroke="#fff" stroke-width="0.12" text-anchor="start" textLength="33.8" lengthAdjust="spacingAndGlyphs" >Black</text>
<text x="391.4" y="529.4" font-size="10.6" font-family="Liberation Sans" fill="#000" stroke="#fff" stroke-width="0.12" text-anchor="start" textLength="25.3" lengthAdjust="spacingAndGlyphs" >Blue</text>
<text x="337" y="543.2" font-size="10.6" font-family="Liberation Sans" fill="#000" stroke="#fff" stroke-width="0.12" text-anchor="start" textLength="34.7" lengthAdjust="spacingAndGlyphs" >White</text>
<line x1="320.4" y1="498.3" x2="348.3" y2="507.7" stroke="#000" stroke-width="1" />
<line x1="387.7" y1="498.3" x2="359.9" y2="507.7" stroke="#000" stroke-width="1" />
<line x1="320.4" y1="526.5" x2="348.3" y2="517.1" stroke="#000" stroke-width="1" />
<line x1="387.7" y1="526.5" x2="359.9" y2="517.1" stroke="#000" stroke-width="1" />
<rect x="345.4" y="576.4" width="21.7" height="58.0" rx="1.5" stroke="#333" stroke-width="1.1" fill="none"/>
<rect x="349.3" y="591.5" width="14.2" height="9.9" rx="0" stroke="#111" stroke-width="1.2" fill="none"/>
<rect x="349.3" y="605.4" width="14.2" height="10.2" rx="0" stroke="#111" stroke-width="1.2" fill="none"/>
<path d="M367.1,595.6 H379.8 Q382.8,595.6 382.8,598.6 V612.1 Q382.8,615.1 379.8,615.1 H367.1" stroke="#555" stroke-width="1.1" fill="none" />
<path d="M367.1,599.2 H379 V611.2 H367.1" stroke="#333" stroke-width="1.1" fill="none" />
<text x="355.2" y="570.2" font-size="10" font-family="Liberation Sans" fill="#000" stroke="#fff" stroke-width="0.12" text-anchor="middle" >C</text>
<text x="286" y="587.6" font-size="10.6" font-family="Liberation Sans" fill="#000" stroke="#fff" stroke-width="0.12" text-anchor="start" textLength="39" lengthAdjust="spacingAndGlyphs" >Green</text>
<text x="289.6" y="624.3" font-size="10.6" font-family="Liberation Sans" fill="#000" stroke="#fff" stroke-width="0.12" text-anchor="start" textLength="33.3" lengthAdjust="spacingAndGlyphs" >Black</text>
<text x="338.8" y="644.9" font-size="10.6" font-family="Liberation Sans" fill="#000" stroke="#fff" stroke-width="0.12" text-anchor="start" textLength="34.8" lengthAdjust="spacingAndGlyphs" >White</text>
<line x1="328.7" y1="584.7" x2="356.7" y2="596.7" stroke="#000" stroke-width="1" />
<line x1="328.7" y1="622.8" x2="356.7" y2="610.4" stroke="#000" stroke-width="1" />
<path d="M617.4,489.6 H621 Q623,489.6 624.8,492.2 H640.1 Q642,489.6 644,489.6 H648.2 Q651.2,489.6 651.2,492.6 V520.7 Q651.2,523.7 648.2,523.7 H617.4 Q614.4,523.7 614.4,520.7 V492.6 Q614.4,489.6 617.4,489.6 Z" stroke="#333" stroke-width="1.1" fill="none" />
<rect x="618.3" y="496.4" width="29.2" height="24.2" rx="1" stroke="#666" stroke-width="1.3" fill="none"/>
<rect x="620.5" y="498.4" width="11.2" height="8.0" rx="0" stroke="#555" stroke-width="1.4" fill="none"/>
<rect x="620.5" y="508.7" width="11.2" height="8.1" rx="0" stroke="#555" stroke-width="1.4" fill="none"/>
<rect x="634" y="498.4" width="11.5" height="8.0" rx="0" stroke="#555" stroke-width="1.4" fill="none"/>
<rect x="634" y="508.7" width="11.5" height="8.1" rx="0" stroke="#555" stroke-width="1.4" fill="none"/>
<path d="M614.4,501.5 H610.5 V513.7 H614.4" stroke="#333" stroke-width="1.1" fill="none" />
<rect x="607.6" y="504" width="2.9" height="7.2" rx="0" stroke="#555" stroke-width="1" fill="none"/>
<text x="632.8" y="485.5" font-size="9.8" font-family="Liberation Sans" fill="#000" stroke="#fff" stroke-width="0" text-anchor="middle" >b</text>
<text x="557" y="491.5" font-size="10.6" font-family="Liberation Sans" fill="#000" stroke="#fff" stroke-width="0.12" text-anchor="start" textLength="34" lengthAdjust="spacingAndGlyphs" >Black</text>
<text x="672" y="493.8" font-size="10.6" font-family="Liberation Sans" fill="#000" stroke="#fff" stroke-width="0.12" text-anchor="start" textLength="39" lengthAdjust="spacingAndGlyphs" >Brown</text>
<text x="564.2" y="527.1" font-size="10.6" font-family="Liberation Sans" fill="#000" stroke="#fff" stroke-width="0.12" text-anchor="start" textLength="26.4" lengthAdjust="spacingAndGlyphs" >Blue</text>
<text x="673.1" y="528.6" font-size="10.6" font-family="Liberation Sans" fill="#000" stroke="#fff" stroke-width="0.12" text-anchor="start" textLength="23" lengthAdjust="spacingAndGlyphs" >Red</text>
<text x="617.1" y="535.2" font-size="10.6" font-family="Liberation Sans" fill="#000" stroke="#fff" stroke-width="0.12" text-anchor="start" textLength="35" lengthAdjust="spacingAndGlyphs" >White</text>
<line x1="598.4" y1="489.2" x2="626.3" y2="502.5" stroke="#000" stroke-width="1" />
<line x1="667.8" y1="489.2" x2="639.4" y2="502.5" stroke="#000" stroke-width="1" />
<line x1="598.4" y1="525.2" x2="626.3" y2="513" stroke="#000" stroke-width="1" />
<line x1="667.8" y1="525.2" x2="639.4" y2="513" stroke="#000" stroke-width="1" />
<path d="M615.2,572.4 H618.5 Q620.5,572.4 621.5,576.1 H635.8 Q637,572.4 639,572.4 H640.9 Q643.9,572.4 643.9,575.4 V617 Q643.9,620 640.9,620 H615.2 Q612.2,620 612.2,617 V575.4 Q612.2,572.4 615.2,572.4 Z" stroke="#333" stroke-width="1.1" fill="none" />
<line x1="620.8" y1="579.5" x2="635.8" y2="579.5" stroke="#555" stroke-width="1" />
<rect x="617.4" y="583.6" width="21.4" height="31.2" rx="1.5" stroke="#222" stroke-width="1.2" fill="none"/>
<rect x="620.5" y="587.2" width="15.3" height="10.0" rx="0" stroke="#666" stroke-width="1.3" fill="none"/>
<rect x="620.5" y="600.8" width="15.3" height="10.6" rx="0" stroke="#666" stroke-width="1.3" fill="none"/>
<path d="M612.2,589 H607.9 V605.3 H612.2" stroke="#333" stroke-width="1.1" fill="none" />
<rect x="603.6" y="592.4" width="4.3" height="10.2" rx="0" stroke="#555" stroke-width="1" fill="none"/>
<text x="628.3" y="568.8" font-size="10.2" font-family="Liberation Sans" fill="#000" stroke="#fff" stroke-width="0.12" text-anchor="middle" >c</text>
<text x="664.3" y="584.6" font-size="10.6" font-family="Liberation Sans" fill="#000" stroke="#fff" stroke-width="0.12" text-anchor="start" textLength="39.5" lengthAdjust="spacingAndGlyphs" >Green</text>
<text x="665.4" y="621" font-size="10.6" font-family="Liberation Sans" fill="#000" stroke="#fff" stroke-width="0.12" text-anchor="start" textLength="33.6" lengthAdjust="spacingAndGlyphs" >Black</text>
<text x="611.6" y="632.5" font-size="10.6" font-family="Liberation Sans" fill="#000" stroke="#fff" stroke-width="0.12" text-anchor="start" textLength="35" lengthAdjust="spacingAndGlyphs" >White</text>
<line x1="660.2" y1="580.8" x2="628.3" y2="592" stroke="#000" stroke-width="1" />
<line x1="660.2" y1="617.6" x2="628.3" y2="606" stroke="#000" stroke-width="1" />
<rect x="835.5" y="66.4" width="62.0" height="41.1" rx="0" stroke="#222" stroke-width="1.2" fill="none"/>
<path d="M856.6,78.3 L853.9,75.1 H848.1 L845.1,78.3 V89.3 L848.1,92.6 H853.9 L856.6,89.1" stroke="#222" stroke-width="1.1" fill="none" />
<path d="M865.4,75.1 V92.6 M862.2,75.1 H871.1 L874.4,78.3 V89.3 L871.1,92.6 H862.2" stroke="#222" stroke-width="1.1" fill="none" />
<path d="M882.4,75.1 V92.6 M879.4,75.1 H885.7 M879.4,92.6 H885.7" stroke="#222" stroke-width="1.1" fill="none" />
<line x1="897.5" y1="78.8" x2="922.8" y2="78.8" stroke="#000" stroke-width="1.8" />
<line x1="897.5" y1="96.6" x2="922.8" y2="96.6" stroke="#000" stroke-width="1.8" />
<rect x="922.8" y="67.9" width="62.7" height="40.9" rx="0" stroke="#555" stroke-width="1.2" fill="none"/>
<text x="927.9" y="92.1" font-size="10.7" font-family="Liberation Sans" fill="#000" stroke="#fff" stroke-width="0.12" text-anchor="start" textLength="55.6" lengthAdjust="spacingAndGlyphs"  word-spacing="2.78">H.T. COIL</text>
<line x1="908.8" y1="96.6" x2="908.8" y2="113.5" stroke="#000" stroke-width="1.6" />
<line x1="901.2" y1="113.5" x2="916.9" y2="113.5" stroke="#000" stroke-width="1.2" />
<line x1="903.7" y1="116.6" x2="913.9" y2="116.6" stroke="#555" stroke-width="1.1" />
<line x1="905.7" y1="118.9" x2="911.8" y2="118.9" stroke="#666" stroke-width="1.1" />
<line x1="907.5" y1="121.4" x2="910" y2="121.4" stroke="#888" stroke-width="1.1" />
<path d="M911.4,78.3 C914,70 918,58 928,45 C938,32 948,30 960,32 C972,34 982,35 992,29 C1000,24 1006,19 1011,14" stroke="#222" stroke-width="3.2" fill="none" />
<path d="M911.4,78.3 C914,70 918,58 928,45 C938,32 948,30 960,32 C972,34 982,35 992,29 C1000,24 1006,19 1011,14" stroke="#fff" stroke-width="1.3" fill="none" />
<circle cx="911.4" cy="78.8" r="1.8" stroke="#000" stroke-width="1" fill="#fff"/>
<path d="M1017.3,12 V20 C1020,26 1026,32 1030,42 C1033,50 1034.5,56 1035.5,62" stroke="#222" stroke-width="3.2" fill="none" />
<path d="M1017.3,12 V20 C1020,26 1026,32 1030,42 C1033,50 1034.5,56 1035.5,62" stroke="#fff" stroke-width="1.3" fill="none" />
<text x="988.6" y="8" font-size="9" font-family="Liberation Sans" fill="#000" stroke="#fff" stroke-width="0" text-anchor="start" textLength="54.7" lengthAdjust="spacingAndGlyphs" >RPM-INPUT</text>
<text x="966.8" y="46.1" font-size="9" font-family="Liberation Sans" fill="#000" stroke="#fff" stroke-width="0" text-anchor="start" textLength="60.2" lengthAdjust="spacingAndGlyphs"  word-spacing="2.34">Either One</text>
<text x="1037.1" y="55.8" font-size="9.5" font-family="Liberation Sans" fill="#000" stroke="#fff" stroke-width="0" text-anchor="start" textLength="17.8" lengthAdjust="spacingAndGlyphs" >3~5</text>
<path d="M985.5,92 L1036,66 C1046,61.5 1055,61.5 1059,67 C1062,71.5 1061,76 1057,81 L1035,110.5 C1031,116 1034,118.5 1041,117.5 L1086,108" stroke="#111" stroke-width="7.5" fill="none" />
<path d="M985.5,92 L1036,66 C1046,61.5 1055,61.5 1059,67 C1062,71.5 1061,76 1057,81 L1035,110.5 C1031,116 1034,118.5 1041,117.5 L1086,108" stroke="#fff" stroke-width="5.5" fill="none" />
<ellipse cx="1037.5" cy="65.6" rx="1.6" ry="5.8" transform="rotate(12 1037.5 65.6)" stroke="#222" stroke-width="1" fill="#fff"/>
<ellipse cx="1041.1" cy="65.6" rx="1.6" ry="5.8" transform="rotate(12 1041.1 65.6)" stroke="#222" stroke-width="1" fill="#fff"/>
<ellipse cx="1044.7" cy="65.6" rx="1.6" ry="5.8" transform="rotate(12 1044.7 65.6)" stroke="#222" stroke-width="1" fill="#fff"/>
<ellipse cx="1048.3" cy="65.6" rx="1.6" ry="5.8" transform="rotate(12 1048.3 65.6)" stroke="#222" stroke-width="1" fill="#fff"/>
<path d="M1101.5,90.5 L1121.5,111.5 C1126,117 1121,125 1112,128.5 C1108,130 1106,129.5 1104,127.5 L1086.6,110" stroke="#222" stroke-width="1.1" fill="#fff" />
<ellipse cx="1091.6" cy="97.4" rx="11.8" ry="7.7" transform="rotate(-35 1091.6 97.4)" stroke="#222" stroke-width="1.1" fill="#fff"/>
<path d="M1081.4,98.6 Q1091,98 1094.3,88.5" stroke="#222" stroke-width="1.1" fill="none" />
</svg>
</body></html>
